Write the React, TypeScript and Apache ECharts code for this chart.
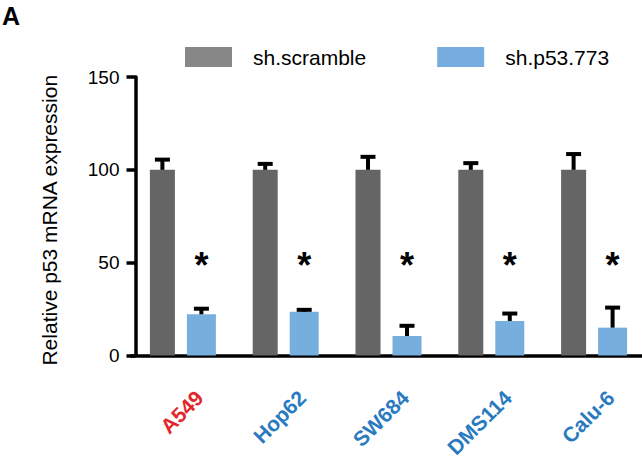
import { useEffect, useRef } from 'react';
import * as echarts from 'echarts';

const categories = ['A549', 'Hop62', 'SW684', 'DMS114', 'Calu-6'];
const seriesNames = ['sh.scramble', 'sh.p53.773'];
const scrambleMean = [100, 100, 100, 100, 100];
const scrambleErr = [5.5, 3.2, 7, 3.6, 8.5];
const p53Mean = [22.2, 23.6, 10.5, 18.6, 15];
const p53Err = [3, 1, 5.5, 4, 10.8];
const significance = ['*', '*', '*', '*', '*'];
const significanceLevel = 50;
const yMin = 0;
const yMax = 150;
const yInterval = 50;
const highlightedCategory = 'A549';

const FONT = '"Liberation Sans", Arial, Helvetica, sans-serif';
const GRAY_W = 25;
const BLUE_W = 29;
const GAP_PCT = 0.48;
const TOTAL = GRAY_W * (1 + GAP_PCT) + BLUE_W;
const GRAY_OFF = -TOTAL / 2 + GRAY_W / 2;
const BLUE_OFF = TOTAL / 2 - BLUE_W / 2;

const BAR_GRAY = '#646564';
const BAR_BLUE = '#76AEDE';
const LEG_GRAY = '#878787';
const LEG_BLUE = '#76ADDF';

export default function App() {
  const ref = useRef<HTMLDivElement>(null);
  useEffect(() => {
    document.body.style.margin = '0';
    const chart = echarts.init(ref.current!, null, { renderer: 'svg' });

    const errData: number[][] = [];
    categories.forEach((_, i) => {
      errData.push([i, scrambleMean[i], scrambleMean[i] + scrambleErr[i], 0]);
      errData.push([i, p53Mean[i], p53Mean[i] + p53Err[i], 1]);
    });
    const starData = categories.map((_, i) => [i, significanceLevel]);

    chart.setOption({
      animation: false,
      title: {
        text: 'A',
        left: 2,
        top: 3,
        padding: 0,
        textStyle: { fontSize: 25, fontWeight: 'bold', fontFamily: FONT, color: '#000' },
      },
      legend: {
        left: 185,
        top: 45,
        padding: 0,
        itemWidth: 47,
        itemHeight: 20,
        itemGap: 71,
        icon: 'rect',
        selectedMode: false,
        data: [
          { name: seriesNames[0], itemStyle: { color: LEG_GRAY } },
          { name: seriesNames[1], itemStyle: { color: LEG_BLUE } },
        ],
        textStyle: {
          fontSize: 21,
          fontFamily: FONT,
          color: '#000',
          lineHeight: 24,
          padding: [0, 0, 0, 16],
        },
      },
      grid: {
        left: 131.5,
        top: 77,
        width: 514,
        height: 278.5,
        outerBoundsMode: 'none',
      },
      xAxis: {
        type: 'category',
        data: categories,
        axisLine: { lineStyle: { color: '#000', width: 3.5 } },
        axisTick: { alignWithLabel: true, length: 11, lineStyle: { color: '#000', width: 3.5 } },
        axisLabel: {
          rotate: 45,
          interval: 0,
          margin: 22,
          fontSize: 21,
          fontWeight: 'bold',
          fontFamily: FONT,
          verticalAlign: 'top',
          lineHeight: 25,
          padding: [11, 0, 0, 0],
          color: (v: string) => (v === highlightedCategory ? '#E3262B' : '#2A7ABF'),
        },
      },
      yAxis: {
        type: 'value',
        min: yMin,
        max: yMax,
        interval: yInterval,
        offset: -4,
        name: 'Relative p53 mRNA expression',
        nameLocation: 'middle',
        nameGap: 76,
        nameTextStyle: { fontSize: 21, fontFamily: FONT, color: '#000', padding: [0, 8, 0, 0] },
        axisLine: { show: true, lineStyle: { color: '#000', width: 3.5 } },
        axisTick: { show: true, length: 9, lineStyle: { color: '#000', width: 3.5 } },
        axisLabel: { fontSize: 19, fontFamily: FONT, color: '#000', margin: 16 },
        splitLine: { show: false },
      },
      series: [
        {
          name: seriesNames[0],
          type: 'bar',
          data: scrambleMean,
          barWidth: GRAY_W,
          barGap: `${GAP_PCT * 100}%`,
          itemStyle: { color: BAR_GRAY },
        },
        {
          name: seriesNames[1],
          type: 'bar',
          data: p53Mean,
          barWidth: BLUE_W,
          barGap: `${GAP_PCT * 100}%`,
          itemStyle: { color: BAR_BLUE },
        },
        {
          name: 'errors',
          type: 'custom',
          data: errData,
          encode: { x: 0, y: [1, 2] },
          z: 5,
          renderItem: (_p: any, api: any) => {
            const i = api.value(0);
            const base = api.coord([i, api.value(1)]);
            const top = api.coord([i, api.value(2)]);
            const x = base[0] + (api.value(3) === 0 ? GRAY_OFF : BLUE_OFF);
            const st = { stroke: '#000', lineWidth: 4 };
            return {
              type: 'group',
              children: [
                { type: 'line', shape: { x1: x, y1: base[1], x2: x, y2: top[1] }, style: st },
                { type: 'line', shape: { x1: x - 7.5, y1: top[1], x2: x + 7.5, y2: top[1] }, style: st },
              ],
            };
          },
        },
        {
          name: 'significance',
          type: 'custom',
          data: starData,
          encode: { x: 0, y: 1 },
          z: 5,
          renderItem: (p: any, api: any) => {
            const pt = api.coord([api.value(0), api.value(1)]);
            return {
              type: 'text',
              x: pt[0] + BLUE_OFF,
              y: pt[1] + 3,
              style: {
                text: significance[p.dataIndex],
                fontSize: 36,
                fontWeight: 'bold',
                fontFamily: FONT,
                fill: '#000',
                align: 'center',
                verticalAlign: 'middle',
              },
            };
          },
        },
      ],
    });
    return () => chart.dispose();
  }, []);
  return <div ref={ref} style={{ width: 642, height: 463 }} />;
}
